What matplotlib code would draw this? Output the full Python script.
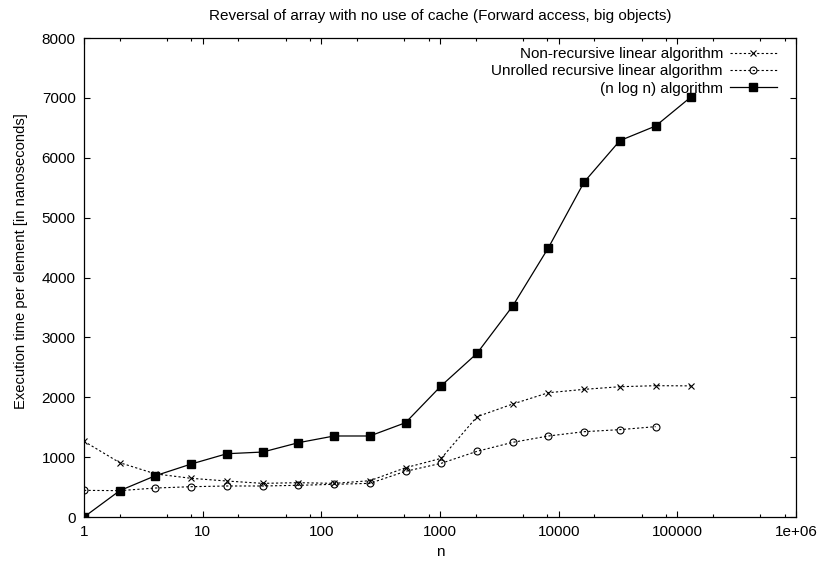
import numpy as np
import matplotlib.pyplot as plt
from matplotlib.ticker import LogLocator, NullFormatter

plt.rcParams['font.family'] = ['Liberation Sans', 'DejaVu Sans']
plt.rcParams['font.size'] = 11

n = 2 ** np.arange(18)

non_recursive = [1264, 907, 720, 646, 601, 562, 573, 562, 606, 823, 980,
                 1675, 1887, 2076, 2132, 2176, 2193, 2190]
unrolled = [445, 440, 484, 506, 518, 518, 529, 546, 562, 763, 897,
            1097, 1247, 1353, 1425, 1459, 1509]
nlogn = [0, 440, 690, 885, 1057, 1085, 1241, 1353, 1353, 1575, 2193,
         2733, 3524, 4498, 5595, 6286, 6530, 7020]

fig = plt.figure(figsize=(8.19, 5.63), dpi=100)
ax = fig.add_axes([0.1026, 0.0817, 0.8694, 0.8508])

ax.plot(n, non_recursive, color='black', linewidth=0.8, dashes=(2, 2),
        marker='x', markersize=5, markeredgewidth=0.8,
        label='Non-recursive linear algorithm')
ax.plot(n[:len(unrolled)], unrolled, color='black', linewidth=0.8, dashes=(2, 2),
        marker='o', markersize=5, markerfacecolor='none', markeredgewidth=0.8,
        label='Unrolled recursive linear algorithm')
ax.plot(n, nlogn, color='black', linewidth=0.9,
        marker='s', markersize=5.5,
        label='(n log n) algorithm')

ax.set_xscale('log')
ax.set_xlim(1, 1e6)
ax.set_ylim(0, 8000)
ax.set_xticks([1, 10, 100, 1000, 10000, 100000, 1000000])
ax.set_xticklabels(['1', '10', '100', '1000', '10000', '100000', '1e+06'])
ax.xaxis.set_minor_locator(LogLocator(base=10, subs=[2, 5, 8]))
ax.xaxis.set_minor_formatter(NullFormatter())
ax.set_yticks(range(0, 8001, 1000))

ax.tick_params(which='both', direction='in', top=True, right=True, width=0.8)
ax.tick_params(which='major', length=4.5, pad=6)
ax.tick_params(which='minor', length=2.5)
for s in ax.spines.values():
    s.set_linewidth(0.9)

ax.set_xlabel('n', labelpad=4)
ax.set_ylabel('Execution time per element [in nanoseconds]', fontsize=10.6)
ax.yaxis.set_label_coords(-0.079, 0.534)
ax.set_title('Reversal of array with no use of cache (Forward access, big objects)',
             fontsize=11, pad=13)

leg = ax.legend(loc='upper right', bbox_to_anchor=(0.982, 0.994),
                frameon=False, markerfirst=False,
                handlelength=3.1, handletextpad=0.45, labelspacing=0.22,
                borderaxespad=0)
for t in leg.get_texts():
    t.set_ha('right')
leg._legend_box.align = 'right'

fig.savefig('out.png', dpi=100)
